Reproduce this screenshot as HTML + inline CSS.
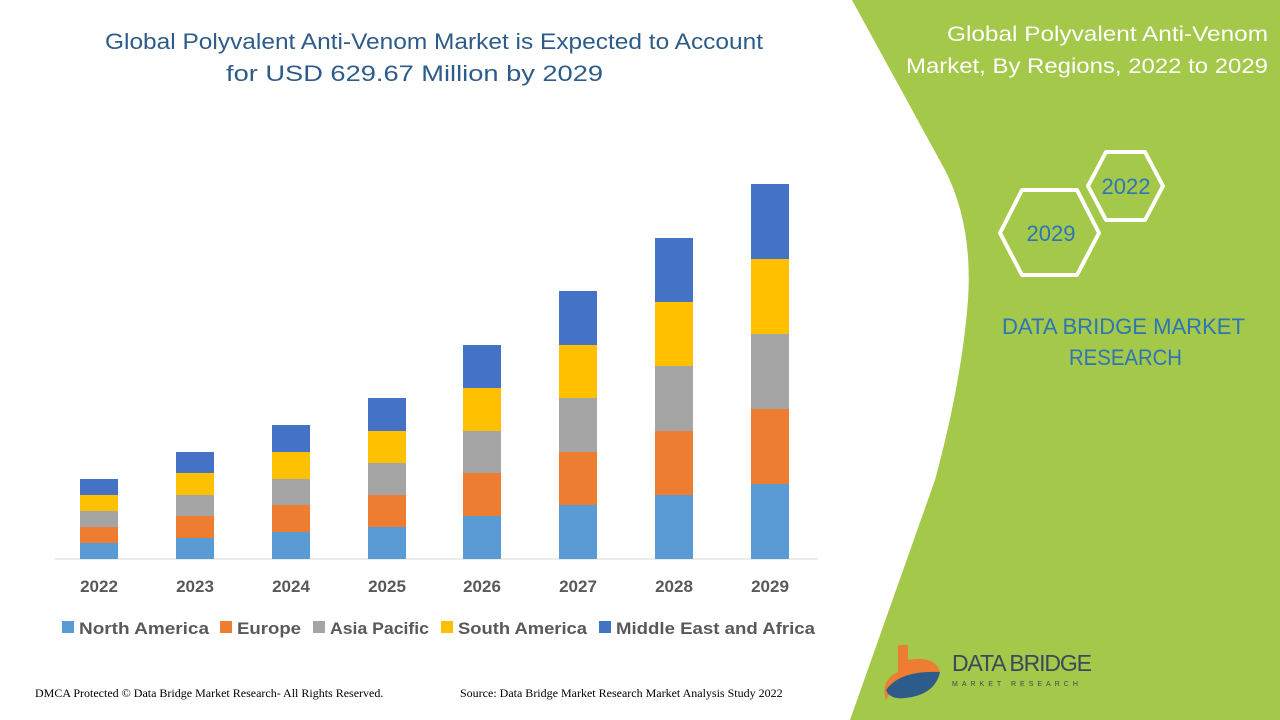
<!DOCTYPE html>
<html><head><meta charset="utf-8"><style>
body{margin:0;width:1280px;height:720px;overflow:hidden;background:#fff;font-family:"Liberation Sans",sans-serif}
</style></head><body>
<svg width="1280" height="720" xmlns="http://www.w3.org/2000/svg" style="position:absolute;left:0;top:0">
<path d="M852,0 L1280,0 L1280,720 L850,720 L935,480 Q962,380 968,300 Q973,225 945,170 Z" fill="#a4c84a"/>
<g font-family="Liberation Sans, sans-serif">
<text x="105" y="49" font-size="22" fill="#2e5c8a" textLength="658" lengthAdjust="spacingAndGlyphs">Global Polyvalent Anti-Venom Market is Expected to Account</text>
<text x="226" y="81" font-size="22" fill="#2e5c8a" textLength="377" lengthAdjust="spacingAndGlyphs">for USD 629.67 Million by 2029</text>
<line x1="55" y1="559" x2="818" y2="559" stroke="#d9d9d9" stroke-width="1"/>
<g id="bars"></g>
<g font-size="17" font-weight="bold" fill="#595959" text-anchor="middle">
<text x="99" y="592">2022</text><text x="195" y="592">2023</text><text x="291" y="592">2024</text><text x="387" y="592">2025</text><text x="482" y="592">2026</text><text x="578" y="592">2027</text><text x="674" y="592">2028</text><text x="770" y="592">2029</text>
</g>
<g font-size="17" font-weight="bold" fill="#595959" lengthAdjust="spacingAndGlyphs">
<rect x="62" y="621" width="12" height="12" fill="#5b9bd5"/><text x="79" y="634" textLength="130" lengthAdjust="spacingAndGlyphs">North America</text>
<rect x="220" y="621" width="12" height="12" fill="#ed7d31"/><text x="237" y="634" textLength="64" lengthAdjust="spacingAndGlyphs">Europe</text>
<rect x="313" y="621" width="12" height="12" fill="#a5a5a5"/><text x="330" y="634" textLength="99" lengthAdjust="spacingAndGlyphs">Asia Pacific</text>
<rect x="441" y="621" width="12" height="12" fill="#ffc000"/><text x="458" y="634" textLength="129" lengthAdjust="spacingAndGlyphs">South America</text>
<rect x="599" y="621" width="12" height="12" fill="#4472c4"/><text x="616" y="634" textLength="199" lengthAdjust="spacingAndGlyphs">Middle East and Africa</text>
</g>
<text x="35" y="697" font-size="12" font-family="Liberation Serif, serif" fill="#000">DMCA Protected © Data Bridge Market Research- All Rights Reserved.</text>
<text x="460" y="697" font-size="12" font-family="Liberation Serif, serif" fill="#000">Source: Data Bridge Market Research Market Analysis Study 2022</text>
<text x="947" y="41" font-size="21" fill="#fff" textLength="321" lengthAdjust="spacingAndGlyphs">Global Polyvalent Anti-Venom</text>
<text x="906" y="73" font-size="21" fill="#fff" textLength="362" lengthAdjust="spacingAndGlyphs">Market, By Regions, 2022 to 2029</text>
<polygon points="1088,186 1106,152 1145,152 1163,186 1145,220 1106,220" fill="none" stroke="#fff" stroke-width="4" stroke-linejoin="round"/>
<polygon points="1000,233 1022,190 1077,190 1099,233 1077,275 1022,275" fill="none" stroke="#fff" stroke-width="4" stroke-linejoin="round"/>
<text x="1126" y="194" font-size="22" fill="#2e75b6" text-anchor="middle">2022</text>
<text x="1051" y="241" font-size="22" fill="#2e75b6" text-anchor="middle">2029</text>
<text x="1002" y="334" font-size="22" fill="#2e75b6" textLength="243" lengthAdjust="spacingAndGlyphs">DATA BRIDGE MARKET</text>
<text x="1069" y="365" font-size="22" fill="#2e75b6" textLength="113" lengthAdjust="spacingAndGlyphs">RESEARCH</text>
<path d="M898,645 L908,645 L908,660 Q935,655 940,672 L905,690 Q890,690 886,700 Q880,680 898,672 Z" fill="#ed7d31"/>
<path d="M886,690 Q900,670 940,672 Q935,695 905,698 Q890,700 886,690 Z" fill="#2e5c8a"/>
<text x="952" y="671" font-size="23" fill="#3a4a5a" textLength="140">DATA BRIDGE</text>
<text x="952" y="686" font-size="7" fill="#3a4a5a" letter-spacing="4">MARKET RESEARCH</text>
</g>
</svg>
<script>
var xs=[80,176,272,368,463,559,655,751];
var segs=[[559,543,527,511,495,479],[559,538,516,495,473,452],[559,532,505,479,452,425],[559,527,495,463,431,398],[559,516,473,431,388,345],[559,505,452,398,345,291],[559,495,431,366,302,238],[559,484,409,334,259,184]];
var cols=["#5b9bd5","#ed7d31","#a5a5a5","#ffc000","#4472c4"];
var g=document.getElementById("bars"),h="";
for(var i=0;i<8;i++)for(var j=0;j<5;j++){h+='<rect x="'+xs[i]+'" y="'+segs[i][j+1]+'" width="38" height="'+(segs[i][j]-segs[i][j+1])+'" fill="'+cols[j]+'"/>';}
g.innerHTML=h;
</script>
</body></html>
